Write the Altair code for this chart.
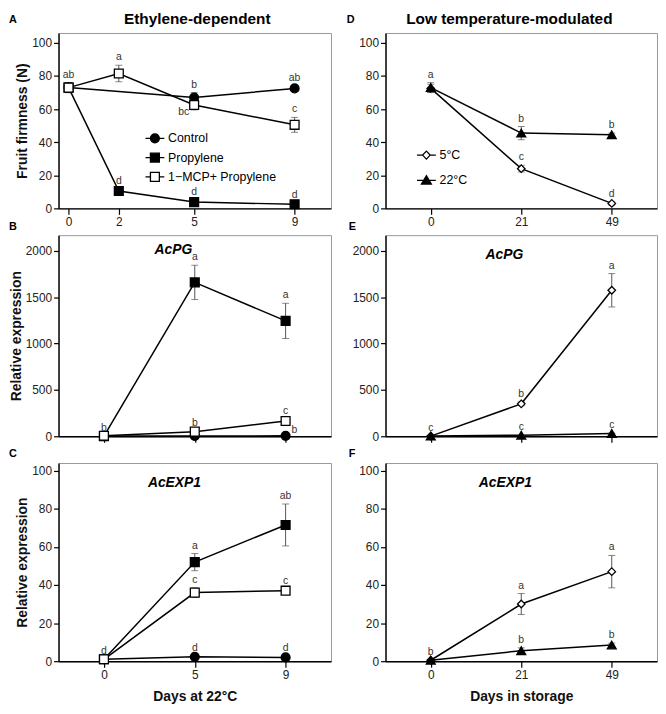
import altair as alt
import pandas as pd

FONT = "Liberation Sans"

# ---------------- series / categories ----------------
ETH = ["Control", "Propylene", "1−MCP+ Propylene"]
LOW = ["5°C", "22°C"]

A_DAYS = [0, 2, 5, 9]
A_CONTROL_DAYS = [0, 5, 9]
BC_DAYS = ["0", "5", "9"]
DEF_DAYS = ["0", "21", "49"]

FIRM_TICKS = [0, 20, 40, 60, 80, 100]
PG_TICKS = [0, 500, 1000, 1500, 2000]
EXP_TICKS = [0, 20, 40, 60, 80, 100]

# ---------------- A: fruit firmness (ethylene) ----------------
a_control_mean = [73, 67, 72.5]
a_control_sd = [3, 3, 1.5]
a_control_letter = ["ab", "b", "ab"]
a_prop_mean = [73, 10.5, 3.8, 2.5]
a_prop_sd = [3, 1, 1, 1]
a_prop_letter = ["", "d", "d", "d"]
a_mcp_mean = [73, 81.5, 62.5, 50.5]
a_mcp_sd = [3, 5, 3, 4.5]
a_mcp_letter = ["", "a", "bc", "c"]
a_mcp_side = ["top", "top", "left", "top"]

# ---------------- B: AcPG (ethylene) ----------------
b_control_mean = [2, 3, 5]
b_control_sd = [1, 1, 2]
b_control_letter = ["", "", "b"]
b_control_side = ["top", "top", "right"]
b_prop_mean = [2, 1660, 1245]
b_prop_sd = [1, 185, 190]
b_prop_letter = ["", "a", "a"]
b_mcp_mean = [5, 50, 165]
b_mcp_sd = [2, 10, 20]
b_mcp_letter = ["b", "b", "c"]

# ---------------- C: AcEXP1 (ethylene) ----------------
c_control_mean = [1, 2.3, 2]
c_control_sd = [0.3, 0.5, 0.5]
c_control_letter = ["", "d", "d"]
c_prop_mean = [1, 52, 71.5]
c_prop_sd = [0.3, 4.5, 11]
c_prop_letter = ["", "a", "ab"]
c_mcp_mean = [1, 36, 37]
c_mcp_sd = [0.3, 2.5, 1]
c_mcp_letter = ["d", "c", "c"]

# ---------------- D: fruit firmness (low temperature) ----------------
d_5_mean = [72.5, 24, 3]
d_5_sd = [2.5, 2, 1]
d_5_letter = ["", "c", "d"]
d_22_mean = [73, 45.5, 44.5]
d_22_sd = [3, 4, 1]
d_22_letter = ["a", "b", "b"]

# ---------------- E: AcPG (low temperature) ----------------
e_5_mean = [2, 350, 1575]
e_5_sd = [1, 20, 180]
e_5_letter = ["", "b", "a"]
e_22_mean = [2, 12, 30]
e_22_sd = [1, 3, 5]
e_22_letter = ["c", "c", "c"]

# ---------------- F: AcEXP1 (low temperature) ----------------
f_5_mean = [0.5, 30, 47]
f_5_sd = [0.3, 5.5, 8.5]
f_5_letter = ["", "a", "a"]
f_22_mean = [0.5, 5.5, 8.5]
f_22_sd = [0.3, 1.5, 1]
f_22_letter = ["b", "b", "b"]


def frame(series, days, mean, sd, letter, side=None):
    n = len(days)
    df = pd.DataFrame({
        "series": [series] * n,
        "day": days,
        "mean": mean,
        "sd": sd,
        "letter": letter,
        "side": side if side else ["top"] * n,
    })
    df["lo"] = df["mean"] - df["sd"]
    df["hi"] = df["mean"] + df["sd"]
    return df


dfA = pd.concat([
    frame(ETH[0], A_CONTROL_DAYS, a_control_mean, a_control_sd, a_control_letter),
    frame(ETH[1], A_DAYS, a_prop_mean, a_prop_sd, a_prop_letter),
    frame(ETH[2], A_DAYS, a_mcp_mean, a_mcp_sd, a_mcp_letter, a_mcp_side),
])
dfB = pd.concat([
    frame(ETH[0], BC_DAYS, b_control_mean, b_control_sd, b_control_letter, b_control_side),
    frame(ETH[1], BC_DAYS, b_prop_mean, b_prop_sd, b_prop_letter),
    frame(ETH[2], BC_DAYS, b_mcp_mean, b_mcp_sd, b_mcp_letter),
])
dfC = pd.concat([
    frame(ETH[0], BC_DAYS, c_control_mean, c_control_sd, c_control_letter),
    frame(ETH[1], BC_DAYS, c_prop_mean, c_prop_sd, c_prop_letter),
    frame(ETH[2], BC_DAYS, c_mcp_mean, c_mcp_sd, c_mcp_letter),
])
dfD = pd.concat([
    frame(LOW[0], DEF_DAYS, d_5_mean, d_5_sd, d_5_letter),
    frame(LOW[1], DEF_DAYS, d_22_mean, d_22_sd, d_22_letter),
])
dfE = pd.concat([
    frame(LOW[0], DEF_DAYS, e_5_mean, e_5_sd, e_5_letter),
    frame(LOW[1], DEF_DAYS, e_22_mean, e_22_sd, e_22_letter),
])
dfF = pd.concat([
    frame(LOW[0], DEF_DAYS, f_5_mean, f_5_sd, f_5_letter),
    frame(LOW[1], DEF_DAYS, f_22_mean, f_22_sd, f_22_letter),
])

# marker styles
ETH_SHAPES = ["circle", "square", "square"]
ETH_FILLS = ["black", "black", "white"]
LOW_SHAPES = ["M0,-0.85L0.85,0L0,0.85L-0.85,0Z", "triangle-up"]
LOW_FILLS = ["white", "black"]
# legend symbols: marker with a short line through it
STUB = "M-1.9,0H-0.9M0.9,0H1.9"
ETH_LEG = [
    STUB + "M-0.9,0A0.9,0.9,0,1,0,0.9,0A0.9,0.9,0,1,0,-0.9,0Z",
    STUB + "M-0.9,-0.9H0.9V0.9H-0.9Z",
    STUB + "M-0.9,-0.9H0.9V0.9H-0.9Z",
]
LOW_LEG = [
    "M-1.9,0H-0.76M0.76,0H1.9M0,-0.8L0.76,0L0,0.8L-0.76,0Z",
    "M-1.9,0H-0.5M0.5,0H1.9M0,-0.95L1,0.75H-1Z",
]


def note(text, x, y, size, weight="bold", style="normal", align="center"):
    return alt.Chart(pd.DataFrame({"label": [text]})).mark_text(
        font=FONT, fontSize=size, fontWeight=weight, fontStyle=style,
        align=align, baseline="alphabetic", color="black"
    ).encode(x=alt.value(x), y=alt.value(y), text="label:N")


def panel(df, width, height, xkind, xdom, ydom, yticks, ytitle, xtitle, xlabels,
          series, shapes, fills, notes, legend=None):
    xaxis_kw = dict(labels=xlabels, labelAngle=0, tickSize=6, labelPadding=2,
                    titlePadding=10, title=xtitle)
    if xkind == "q":
        X = alt.X("day:Q", scale=alt.Scale(domain=xdom, nice=False, zero=False),
                  axis=alt.Axis(values=A_DAYS, **xaxis_kw))
    else:
        X = alt.X("day:O", sort=xdom, scale=alt.Scale(type="point", padding=0.5, domain=xdom),
                  axis=alt.Axis(**xaxis_kw))

    def Y(field):
        return alt.Y(f"{field}:Q", scale=alt.Scale(domain=ydom, nice=False, zero=False),
                     axis=alt.Axis(values=yticks, title=ytitle, tickSize=5, format="d",
                                   titlePadding=2))

    base = alt.Chart(df)
    line = base.mark_line(color="black", strokeWidth=1.5).encode(
        x=X, y=Y("mean"), detail="series:N")
    err = base.mark_errorbar(ticks=True, size=7, thickness=1, color="#555").encode(
        x=X, y=Y("lo"), y2=alt.Y2("hi:Q"))
    pts = base.mark_point(filled=True, stroke="black", strokeWidth=1.3, opacity=1, size=80).encode(
        x=X, y=Y("mean"),
        shape=alt.Shape("series:N", scale=alt.Scale(domain=series, range=shapes), legend=None),
        fill=alt.Fill("series:N", scale=alt.Scale(domain=series, range=fills), legend=None),
    )
    txt_kw = dict(font=FONT, fontSize=10.5, color="#333")
    top_txt = base.transform_filter("datum.side == 'top'").mark_text(
        baseline="bottom", dy=-3, **txt_kw).encode(x=X, y=Y("hi"), text="letter:N")
    left_txt = base.transform_filter("datum.side == 'left'").mark_text(
        align="right", baseline="middle", dx=-5, dy=7, **txt_kw).encode(x=X, y=Y("mean"), text="letter:N")
    right_txt = base.transform_filter("datum.side == 'right'").mark_text(
        align="left", baseline="middle", dx=6, dy=-6, **txt_kw).encode(x=X, y=Y("mean"), text="letter:N")

    layers = [line, err, pts, top_txt, left_txt, right_txt] + notes
    if legend is not None:
        paths, lx, ly, rowpad = legend
        leg = alt.Legend(orient="none", legendX=lx, legendY=ly, title=None, labelFont=FONT,
                         labelFontSize=12.5, labelColor="black", symbolSize=100,
                         symbolStrokeColor="black", symbolStrokeWidth=1.3,
                         rowPadding=rowpad, labelOffset=7, padding=0)
        leg_layer = base.transform_filter("false").mark_point(
            filled=True, stroke="black", strokeWidth=1.3, opacity=1).encode(
            shape=alt.Shape("series:N", scale=alt.Scale(domain=series, range=paths), legend=leg),
            fill=alt.Fill("series:N", scale=alt.Scale(domain=series, range=fills), legend=leg),
            stroke=alt.Stroke("series:N", scale=alt.Scale(domain=series, range=["black"] * len(series)),
                              legend=leg),
        )
        layers.append(leg_layer)
    return alt.layer(*layers).resolve_scale(
        shape="independent", fill="independent", stroke="independent"
    ).properties(width=width, height=height)


WL, WR = 275, 274
H1, H2, H3 = 177, 203, 200

A = panel(dfA, WL, H1, "q", [-0.4, 10.45], [0, 106], FIRM_TICKS, "Fruit firmness (N)", None, True,
          ETH, ETH_SHAPES, ETH_FILLS,
          [note("Ethylene-dependent", 140, -9, 15.5), note("A", -50, -10, 11, align="left")],
          legend=(ETH_LEG, 91, 100, 4.5))
D = panel(dfD, WR, H1, "o", DEF_DAYS, [0, 106], FIRM_TICKS, None, None, True,
          LOW, LOW_SHAPES, LOW_FILLS,
          [note("Low temperature-modulated", 125, -9, 15.5), note("D", -39, -10, 11, align="left")],
          legend=(LOW_LEG, 35, 117, 10.5))
B = panel(dfB, WL, H2, "o", BC_DAYS, [0, 2170], PG_TICKS, "Relative expression", None, False,
          ETH, ETH_SHAPES, ETH_FILLS,
          [note("AcPG", 116, 19, 14, style="italic"), note("B", -50, -5, 11, align="left")])
E = panel(dfE, WR, H2, "o", DEF_DAYS, [0, 2170], PG_TICKS, None, None, False,
          LOW, LOW_SHAPES, LOW_FILLS,
          [note("AcPG", 120, 24, 14, style="italic"), note("E", -37, -5, 11, align="left")])
C = panel(dfC, WL, H3, "o", BC_DAYS, [0, 104], EXP_TICKS, "Relative expression", "Days at 22°C", True,
          ETH, ETH_SHAPES, ETH_FILLS,
          [note("AcEXP1", 117, 24, 14, style="italic"), note("C", -50, -6, 11, align="left")])
F = panel(dfF, WR, H3, "o", DEF_DAYS, [0, 104], EXP_TICKS, None, "Days in storage", True,
          LOW, LOW_SHAPES, LOW_FILLS,
          [note("AcEXP1", 121, 24, 14, style="italic"), note("F", -37, -6, 11, align="left")])

chart = alt.concat(
    A, D, B, E, C, F, columns=2, spacing={"row": 27, "column": 55}, bounds="flush", align="each"
).resolve_scale(
    shape="independent", fill="independent", stroke="independent", x="independent", y="independent"
).properties(padding=0).configure_view(
    stroke="#999", strokeWidth=1
).configure_axis(
    domainColor="black", domainWidth=1.4, tickColor="black", tickWidth=1.2,
    labelFont=FONT, labelFontSize=12, labelColor="#222", labelPadding=2,
    titleFont=FONT, titleFontSize=14, titleFontWeight="bold", titleColor="#111",
    titlePadding=3, grid=False
)

chart.save("out.html", embed_options={"renderer": "svg", "actions": False})
